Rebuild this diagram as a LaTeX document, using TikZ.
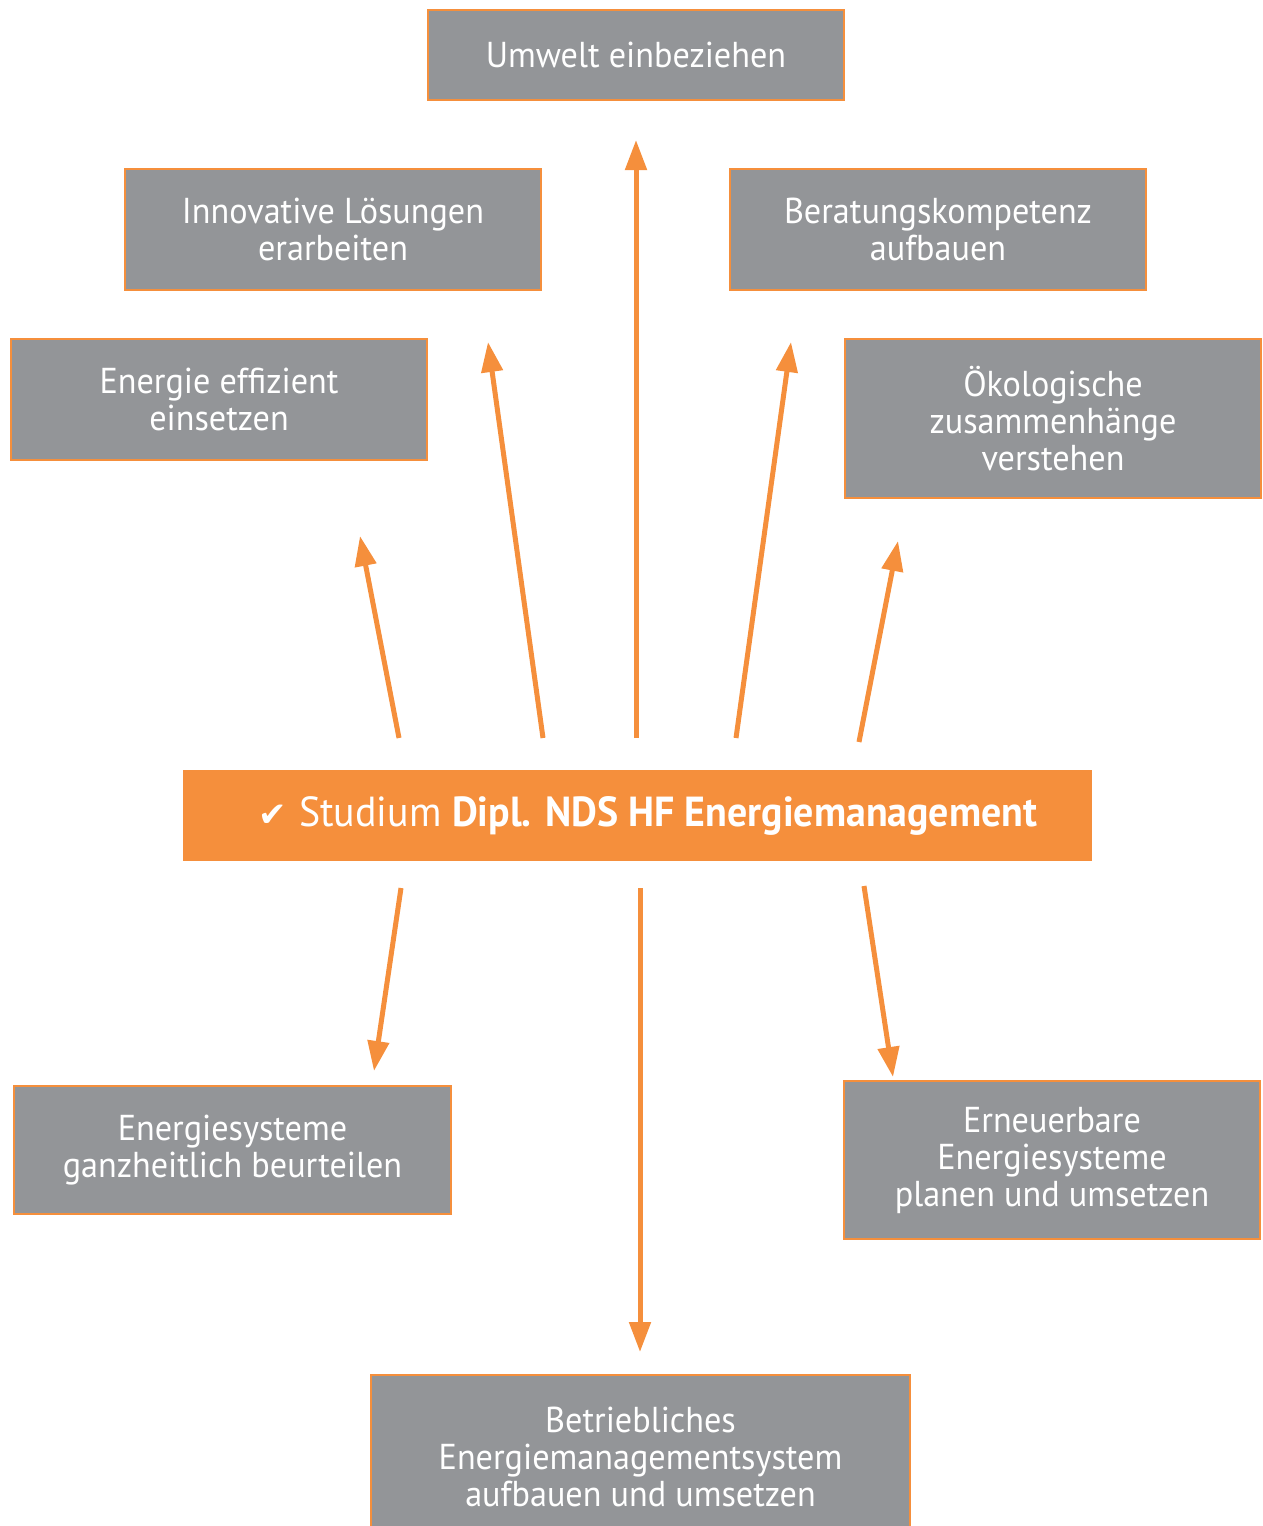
\documentclass[tikz,border=0pt]{standalone}
\usepackage{fontspec}
\setmainfont{PT Sans}[FakeStretch=0.95]
\newfontfamily\symfont{DejaVu Sans}
\usetikzlibrary{arrows.meta}
\definecolor{boxgray}{HTML}{939598}
\definecolor{orng}{HTML}{F58F3C}
\begin{document}
\begin{tikzpicture}[x=1pt,y=-1pt,
  goal/.style={draw=orng,line width=2pt,fill=boxgray,text=white,align=center,
    inner sep=0pt,font=\fontsize{36}{37}\selectfont},
  arr/.style={draw=orng,line width=5pt,-{Triangle[length=30pt,width=21pt]}}]
\useasboundingbox (0,0) rectangle (1262,1526);
\node[goal,minimum width=416pt,minimum height=90pt] (umwelt) at (636,55) {Umwelt einbeziehen};
\node[goal,minimum width=416pt,minimum height=121pt] (innov) at (333,229.5) {Innovative Lösungen\\erarbeiten};
\node[goal,minimum width=416pt,minimum height=121pt] (berat) at (938,229.5) {Beratungskompetenz\\aufbauen};
\node[goal,minimum width=416pt,minimum height=121pt] (effiz) at (219,399.5) {Energie effizient\\einsetzen};
\node[goal,minimum width=416pt,minimum height=159pt] (oeko) at (1053,418.5) {Ökologische\\zusammenhänge\\verstehen};
\node[goal,minimum width=437pt,minimum height=128pt] (ganz) at (232.5,1150) {Energiesysteme\\ganzheitlich beurteilen};
\node[goal,minimum width=416pt,minimum height=158pt] (erneu) at (1052,1160) {Erneuerbare\\Energiesysteme\\planen und umsetzen};
\node[goal,minimum width=539pt,minimum height=164pt] (betr) at (640.5,1457) {Betriebliches\\Energiemanagementsystem\\aufbauen und umsetzen};
\node[fill=orng,minimum width=909pt,minimum height=91pt,inner sep=0pt] (studium) at (637.5,815.5) {};
\node[text=white,inner sep=0pt,font=\fontsize{42}{44}\selectfont] (studtxt) at (648,815.5)
  {{\symfont\fontsize{34}{36}\selectfont ✔}\hspace{12pt}Studium \textbf{Dipl. NDS HF Energiemanagement}};
% arrow coordinates
\coordinate (s1) at (636,738); \coordinate (t1) at (636,140);
\coordinate (s2) at (543,738); \coordinate (t2) at (488,342);
\coordinate (s3) at (736,738); \coordinate (t3) at (791,342);
\coordinate (s4) at (399,738); \coordinate (t4) at (360,536);
\coordinate (s5) at (859,742); \coordinate (t5) at (898,541);
\coordinate (s6) at (401,888); \coordinate (t6) at (374,1071);
\coordinate (s7) at (640,888); \coordinate (t7) at (640,1352);
\coordinate (s8) at (864,886); \coordinate (t8) at (893,1077);
\foreach \i in {1,...,8} {\draw[arr] (s\i) -- (t\i);}
\end{tikzpicture}
\end{document}
